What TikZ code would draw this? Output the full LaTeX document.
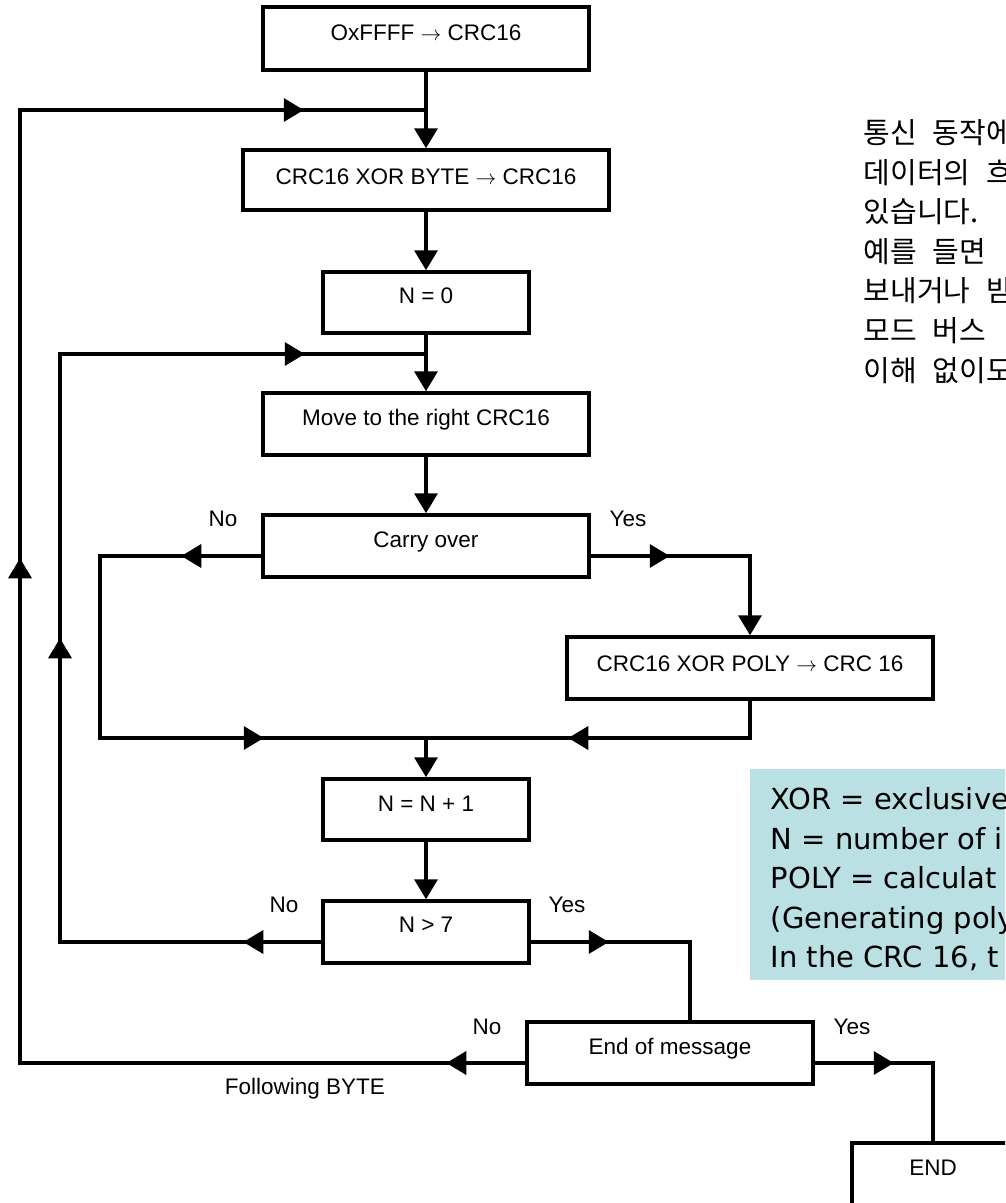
\documentclass[tikz,border=0pt]{standalone}
\usepackage{fontspec}
\setmainfont{Liberation Sans}
\newfontfamily\kfont[WordSpace=2.4]{Noto Sans CJK KR}
\newfontfamily\bfont{DejaVu Sans}
\usetikzlibrary{arrows.meta,decorations.markings}
\definecolor{notebg}{RGB}{187,224,227}
\tikzset{AT/.tip={Triangle[length=20pt,width=23pt]}}
\begin{document}
\begin{tikzpicture}[x=1pt,y=-1pt,line width=3.5pt,
  box/.style={draw,rectangle,inner sep=0pt,text height=16pt,text depth=12pt,
    font=\fontsize{22.5}{27}\selectfont},
  lbl/.style={inner sep=0pt,text height=16pt,text depth=0pt,
    font=\fontsize{22.5}{27}\selectfont},
  tipend/.style={-{AT}},
  noteline/.style={anchor=base west,inner sep=0pt,font=\bfont\fontsize{29}{35}\selectfont},
  kline/.style={anchor=base west,inner sep=0pt,font=\kfont\fontsize{29}{35}\selectfont}]
\useasboundingbox (0,0) rectangle (1005,1203);
\fill[white] (0,0) rectangle (1005,1203);
\begin{scope}
\clip (0,0) rectangle (1005,1203);

% Korean text (top right)
\node[kline] (k1) at (862,143) {통신 동작에};
\node[kline] (k2) at (862,183) {데이터의 흐};
\node[kline] (k3) at (862,222) {있습니다.};
\node[kline] (k4) at (862,262) {예를 들면};
\node[kline] (k5) at (862,301) {보내거나 받};
\node[kline] (k6) at (862,341) {모드 버스};
\node[kline] (k7) at (862,381) {이해 없이도};

% note box
\node[fill=notebg,anchor=north west,minimum width=270pt,minimum height=211pt,inner sep=0pt] (note) at (748,767) {};
\node[noteline] (n1) at (769,809) {XOR = exclusive};
\node[noteline] (n2) at (769,849) {N = number of i};
\node[noteline] (n3) at (769,888) {POLY = calculat};
\node[noteline] (n4) at (769,928) {(Generating poly};
\node[noteline] (n5) at (769,967) {In the CRC 16, t};

% boxes
\node[box,minimum width=326pt,minimum height=63pt] (b1) at (426,38.5) {OxFFFF $\rightarrow$ CRC16};
\node[box,minimum width=366pt,minimum height=60pt,text depth=8pt] (b2) at (426,180) {CRC16 XOR BYTE $\rightarrow$ CRC16};
\node[box,minimum width=206pt,minimum height=61pt,text depth=15pt] (b3) at (426,302.5) {N = 0};
\node[box,minimum width=326pt,minimum height=62pt,text depth=14pt] (b4) at (426,424) {Move to the right CRC16};
\node[box,minimum width=326pt,minimum height=62pt,text depth=14pt] (b5) at (426,546) {Carry over};
\node[box,minimum width=366pt,minimum height=62pt,text depth=9pt] (b6) at (750,668) {CRC16 XOR POLY $\rightarrow$ CRC 16};
\node[box,minimum width=206pt,minimum height=61pt,text depth=13pt] (b7) at (426,809.5) {N = N + 1};
\node[box,minimum width=206pt,minimum height=62pt,text depth=15pt] (b8) at (426,932) {N > 7};
\node[box,minimum width=286pt,minimum height=62pt,text depth=13pt] (b9) at (670,1053) {End of message};
\node[box,minimum width=162pt,minimum height=72pt,text depth=24pt] (b10) at (933,1179) {END};

% junctions
\coordinate (j1) at (426,110);
\coordinate (j2) at (426,354);
\coordinate (j3) at (426,738);
\coordinate (c1) at (20,110);
\coordinate (c2) at (60,354);
\coordinate (c3) at (100,738);

% main flow
\draw[tipend] (b1.south) -- (b2.north);
\draw[tipend] (b2.south) -- (b3.north);
\draw[tipend] (b3.south) -- (b4.north);
\draw[tipend] (b4.south) -- (b5.north);
\draw[tipend] (j3) -- (b7.north);
\draw[tipend] (b7.south) -- (b8.north);

% carry over: no
\draw[postaction={decorate},decoration={markings,
   mark=at position 80pt with {\arrow{AT}},
   mark=at position 507pt with {\arrow{AT}}}]
  ([yshift=-10pt]b5.west) -| (c3) -- (j3);
% carry over: yes
\draw[tipend,postaction={decorate},decoration={markings,
   mark=at position 79pt with {\arrow{AT}}}]
  ([yshift=-10pt]b5.east) -| (b6.north);
% back from poly
\draw[postaction={decorate},decoration={markings,
   mark=at position 219pt with {\arrow{AT}}}]
  (b6.south) |- (j3);

% N > 7 : no
\draw[postaction={decorate},decoration={markings,
   mark=at position 78pt with {\arrow{AT}},
   mark=at position 565pt with {\arrow{AT}},
   mark=at position 1094pt with {\arrow{AT}}}]
  ([yshift=-10pt]b8.west) -| (c2) -- (j2);
% N > 7 : yes
\draw[postaction={decorate},decoration={markings,
   mark=at position 78pt with {\arrow{AT}}}]
  ([yshift=-10pt]b8.east) -| ([xshift=20pt]b9.north);

% end of message: no
\draw[postaction={decorate},decoration={markings,
   mark=at position 79pt with {\arrow{AT}},
   mark=at position 1010pt with {\arrow{AT}},
   mark=at position 1742pt with {\arrow{AT}}}]
  ([yshift=-10pt]b9.west) -| (c1) -- (j1);
% end of message: yes
\draw[postaction={decorate},decoration={markings,
   mark=at position 79pt with {\arrow{AT}}}]
  ([yshift=-10pt]b9.east) -| (b10.north);

% labels
\node[lbl] (l1) at (223,518.5) {No};
\node[lbl] (l2) at (628,518.5) {Yes};
\node[lbl] (l3) at (284,904) {No};
\node[lbl] (l4) at (567,904) {Yes};
\node[lbl] (l5) at (487,1026) {No};
\node[lbl] (l6) at (852,1026) {Yes};
\node[lbl] (l7) at (305,1086) {Following BYTE};
\end{scope}
\end{tikzpicture}
\end{document}
